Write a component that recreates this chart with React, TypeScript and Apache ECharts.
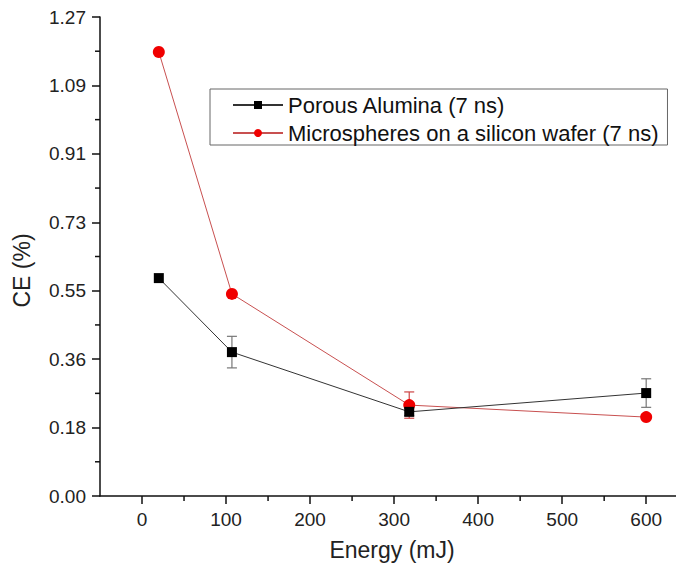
import React, { useEffect, useRef } from "react";
import * as echarts from "echarts";

const energy = [20, 107, 318, 600];
const alumina = [0.58, 0.383, 0.224, 0.274];
const aluminaErr = [0, 0.042, 0.01, 0.038];
const micro = [1.182, 0.538, 0.242, 0.21];
const microErr = [0, 0, 0.035, 0];
const yTickLabels = ["0.00", "0.18", "0.36", "0.55", "0.73", "0.91", "1.09", "1.27"];
const xTickValues = [0, 100, 200, 300, 400, 500, 600];
const xMinorValues = [50, 150, 250, 350, 450, 550];

const X_MIN = -50;
const X_MAX = 645;
const Y_MAX = 1.275;
const Y_STEP = Y_MAX / 7;
const yTickValues = yTickLabels.map((_, i) => i * Y_STEP);
const yMinorValues = yTickLabels.slice(1).map((_, i) => (i + 0.5) * Y_STEP);

const FONT = "Liberation Sans, Arial, sans-serif";
const W = 684;
const H = 571;

function errorSeries(name: string, ys: number[], errs: number[], color: string) {
  return {
    type: "custom",
    name: name + "-err",
    z: 1,
    silent: true,
    data: energy.map((x, i) => [x, ys[i], errs[i]]),
    renderItem: (params: any, api: any) => {
      const x = api.value(0);
      const y = api.value(1);
      const e = api.value(2);
      if (!e) return null;
      const top = api.coord([x, y + e]);
      const bot = api.coord([x, y - e]);
      const w = 5;
      return {
        type: "group",
        children: [
          { type: "line", shape: { x1: top[0], y1: top[1], x2: bot[0], y2: bot[1] }, style: { stroke: color, lineWidth: 1.2 } },
          { type: "line", shape: { x1: top[0] - w, y1: top[1], x2: top[0] + w, y2: top[1] }, style: { stroke: color, lineWidth: 1.2 } },
          { type: "line", shape: { x1: bot[0] - w, y1: bot[1], x2: bot[0] + w, y2: bot[1] }, style: { stroke: color, lineWidth: 1.2 } },
        ],
      };
    },
  };
}

function minorTickSeries(dim: "x" | "y", values: number[]) {
  return {
    type: "custom",
    name: "minor-" + dim,
    silent: true,
    clip: false,
    z: 5,
    data: values.map((v) => (dim === "x" ? [v, 0] : [X_MIN, v])),
    renderItem: (params: any, api: any) => {
      const p = api.coord([api.value(0), api.value(1)]);
      const len = 5;
      const shape =
        dim === "x"
          ? { x1: p[0], y1: p[1], x2: p[0], y2: p[1] + len }
          : { x1: p[0] - len, y1: p[1], x2: p[0], y2: p[1] };
      return { type: "line", shape, style: { stroke: "#111", lineWidth: 1.5 } };
    },
  };
}

export default function App() {
  const ref = useRef<HTMLDivElement>(null);
  useEffect(() => {
    if (!ref.current) return;
    const chart = echarts.init(ref.current, null, { renderer: "svg" });
    const axisText = { color: "#222", fontSize: 19, fontFamily: FONT };
    const tickStyle = { color: "#111", width: 1.5 };
    chart.setOption({
      animation: false,
      backgroundColor: "#fff",
      textStyle: { fontFamily: FONT },
      grid: { left: 100, right: 0, top: 17, bottom: 75, containLabel: false },
      legend: {
        left: 210,
        top: 89,
        orient: "vertical",
        borderColor: "#666",
        borderWidth: 1,
        padding: [5, 9, 1, 22],
        itemWidth: 50,
        itemHeight: 10,
        itemGap: 6,
        textStyle: { color: "#111", fontSize: 22, fontFamily: FONT },
        data: ["Porous Alumina (7 ns)", "Microspheres on a silicon wafer (7 ns)"],
      },
      xAxis: {
        type: "value",
        min: X_MIN,
        max: X_MAX,
        name: "Energy (mJ)",
        nameLocation: "middle",
        nameGap: 42,
        nameTextStyle: { color: "#222", fontSize: 23, fontFamily: FONT },
        axisLine: { show: true, onZero: false, lineStyle: tickStyle },
        axisTick: { show: true, customValues: xTickValues, length: 8, lineStyle: tickStyle },
        axisLabel: { show: true, customValues: xTickValues, margin: 14, ...axisText },
        splitLine: { show: false },
      },
      yAxis: {
        type: "value",
        min: 0,
        max: Y_MAX,
        name: "CE (%)",
        nameLocation: "middle",
        nameGap: 67,
        nameTextStyle: { color: "#222", fontSize: 23, fontFamily: FONT, padding: [0, 28, 0, 0] },
        axisLine: { show: true, onZero: false, lineStyle: tickStyle },
        axisTick: { show: true, customValues: yTickValues, length: 8, lineStyle: tickStyle },
        axisLabel: {
          show: true,
          customValues: yTickValues,
          margin: 14,
          formatter: (v: number) => yTickLabels[Math.round(v / Y_STEP)] ?? "",
          ...axisText,
        },
        splitLine: { show: false },
      },
      series: [
        minorTickSeries("x", xMinorValues),
        minorTickSeries("y", yMinorValues),
        errorSeries("Porous Alumina (7 ns)", alumina, aluminaErr, "#777"),
        errorSeries("Microspheres on a silicon wafer (7 ns)", micro, microErr, "#c44"),
        {
          type: "line",
          name: "Porous Alumina (7 ns)",
          data: energy.map((x, i) => [x, alumina[i]]),
          symbol: "rect",
          symbolSize: 10,
          z: 3,
          itemStyle: { color: "#000" },
          lineStyle: { color: "#333", width: 1 },
        },
        {
          type: "line",
          name: "Microspheres on a silicon wafer (7 ns)",
          data: energy.map((x, i) => [x, micro[i]]),
          symbol: "circle",
          symbolSize: 12,
          z: 2,
          itemStyle: { color: "#f00000" },
          lineStyle: { color: "#c85050", width: 1 },
        },
      ],
    });
    return () => chart.dispose();
  }, []);
  return <div ref={ref} style={{ width: W, height: H, margin: -8 }} />;
}
